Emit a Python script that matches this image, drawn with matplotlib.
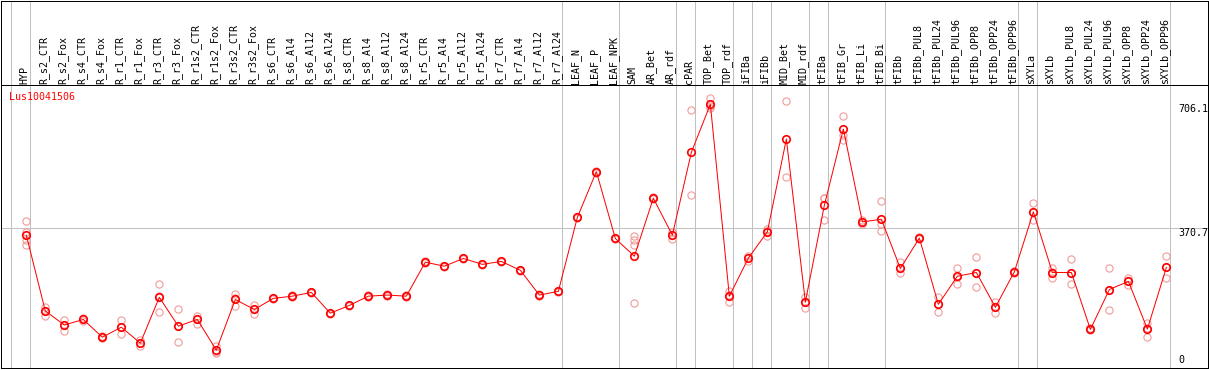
import numpy as np
import matplotlib as mpl; mpl.use('Agg'); import matplotlib.pyplot as plt

samples = ['HYP','R_s2_CTR','R_s2_Fox','R_s4_CTR','R_s4_Fox','R_r1_CTR','R_r1_Fox','R_r3_CTR','R_r3_Fox',
           'R_r1s2_CTR','R_r1s2_Fox','R_r3s2_CTR','R_r3s2_Fox','R_s6_CTR','R_s6_Al4','R_s6_Al12','R_s6_Al24',
           'R_s8_CTR','R_s8_Al4','R_s8_Al12','R_s8_Al24','R_r5_CTR','R_r5_Al4','R_r5_Al12','R_r5_Al24',
           'R_r7_CTR','R_r7_Al4','R_r7_Al12','R_r7_Al24','LEAF_N','LEAF_P','LEAF_NPK','SAM','AR_Bet','AR_rdf',
           'cPAR','TOP_Bet','TOP_rdf','iFIBa','iFIBb','MID_Bet','MID_rdf','tFIBa','tFIB_Gr','tFIB_Li','tFIB_Bi',
           'tFIBb','tFIBb_PUL8','tFIBb_PUL24','tFIBb_PUL96','tFIBb_OPP8','tFIBb_OPP24','tFIBb_OPP96',
           'sXYLa','sXYLb','sXYLb_PUL8','sXYLb_PUL24','sXYLb_PUL96','sXYLb_OPP8','sXYLb_OPP24','sXYLb_OPP96']
means = [352,147,109,124,76,103,60,184,106,124,41,178,151,181,187,197,141,162,187,190,187,279,268,289,273,281,257,
         190,200,400,524,343,295,452,352,576,706.1,187,290,361,612,171,433,639,388,395,262,344,165,241,251,157,253,
         415,251,251,97,205,227,98,265]
reps = [[390,361,339,325],[158,147,134],[122,109,94],[127,121],[78,75],[122,103,84],[68,60,53],[219,188,145],
        [151,106,62],[133,124,113],[53,37,33],[193,182,161],[163,152,140],[183,179],[189,185],[199,196],[142,139],
        [164,160],[189,186],[192,188],[189,186],[281,278],[269,266],[291,288],[275,271],[283,279],[259,255],
        [192,188],[202,198],[402,398],[526,521],[345,342],[350,339,325,168],[454,449],[361,352,342],[690,462],
        [722,701,695],[201,190,172],[295,283],[369,362,351],[715,508],[186,171,156],[453,453,392],[673,623,609],
        [392,387,383],[444,381,364],[280,262,249],[346,342],[184,165,145],[263,240,219],[292,251,211],
        [172,157,141],[255,251],[438,415,393],[263,252,237],[287,250,219],[100,95],[263,205,150],[237,227,217],
        [115,102,77],[295,265,235]]
group_ends = [-1,0,28,31,34,35,37,38,39,41,42,45,52,53,60]
yticks = [706.1, 370.7, 0]
gene = 'Lus10041506'

W,H = 1209,370
fig = plt.figure(figsize=(W/100,H/100),dpi=100)
mono = 'DejaVu Sans Mono'; fs = 7.2; lw = 0.72
xl = (-1.332, 62.19)
ax = fig.add_axes([1/W, 2/H, 1207/W, 283/H])
hd = fig.add_axes([1/W, 285/H, 1207/W, 84.5/H])
for a in (ax,hd):
    a.set_xlim(*xl); a.set_xticks([]); a.set_yticks([])
    for s in a.spines.values(): s.set_linewidth(lw); s.set_color('black')
    for g in group_ends: a.axvline(g+0.2,color='#c0c0c0',lw=lw,zorder=0)
hd.set_ylim(0,1)
ax.set_ylim(-7.3,758.2)
ax.axhline(yticks[1],color='#c0c0c0',lw=lw,zorder=0)

x = np.arange(len(samples))
for i,r in enumerate(reps):
    ax.plot([i]*len(r),r,'o',ms=5.2,mfc='none',mec='#f09a9a',mew=0.8,ls='none',zorder=2)
ax.plot(x,means,'-',color='red',lw=lw,zorder=3)
ax.plot(x,means,'o',ms=5.4,mfc='none',mec='red',mew=1.2,ls='none',zorder=4)

for i,s in enumerate(samples):
    hd.text(i-0.1,0.015,s,rotation=90,ha='center',va='bottom',fontsize=fs,family=mono)
ax.text(60.63,yticks[0],'706.1',ha='left',va='top',fontsize=fs,family=mono)
ax.text(60.63,yticks[1],'370.7',ha='left',va='top',fontsize=fs,family=mono)
ax.text(60.63,yticks[2],'0',ha='left',va='bottom',fontsize=fs,family=mono)
ax.text(-0.9,725,gene,ha='left',va='center',fontsize=fs,family=mono,color='red')
fig.savefig('out.png',dpi=100)
